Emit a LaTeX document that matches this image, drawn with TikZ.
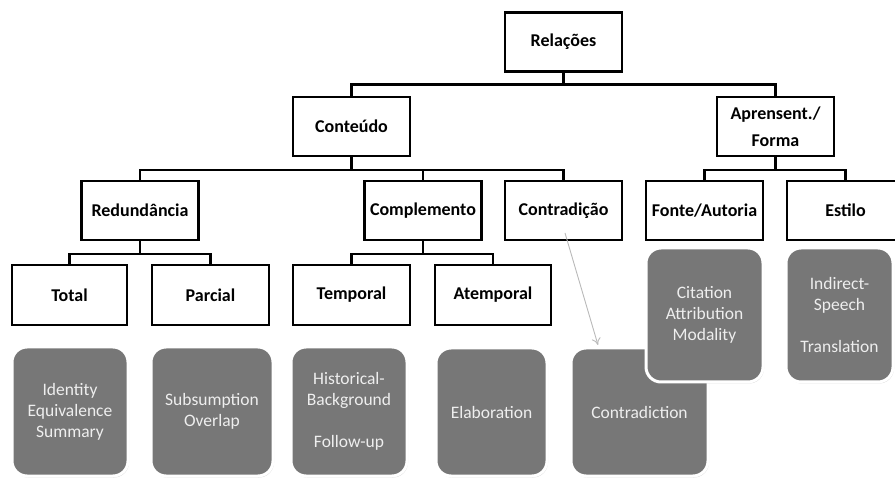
\documentclass[tikz,border=0pt]{standalone}
\usepackage{fontspec}
\setmainfont{Carlito}
\usetikzlibrary{shadows,arrows.meta}
\definecolor{boxgray}{HTML}{777777}
\definecolor{txtlight}{HTML}{EEEEEE}
\tikzset{
  lbox/.style={draw=black, line width=2.4pt, fill=white, minimum width=117pt, minimum height=59pt,
    inner sep=0pt, align=center, font=\bfseries\fontsize{18}{27}\selectfont},
  gbox/.style={draw=white, line width=3pt, fill=boxgray, rounded corners=15pt, inner sep=0pt,
    align=center, text=txtlight, font=\fontsize{17.5}{21}\selectfont,
    drop shadow={opacity=0.35, shadow xshift=1pt, shadow yshift=-1.5pt}},
  conn/.style={line width=2.4pt, black},
  thinarrow/.style={draw=gray!55, line width=0.9pt, -{To[length=7pt,width=9pt]}}
}
\begin{document}
\begin{tikzpicture}[x=1pt,y=-1pt]
\useasboundingbox (0,0) rectangle (895,478);
% label boxes
\node[lbox] (rel) at (563.5,42) {Relações};
\node[lbox] (cont) at (351.5,126.5) {Conteúdo};
\node[lbox] (apr) at (775.5,126.5) {Aprensent./\\Forma};
\node[lbox] (red) at (140,210.5) {Redundância};
\node[lbox] (comp) at (423,210.5) {Complemento};
\node[lbox] (contr) at (563.5,210.5) {Contradição};
\node[lbox] (fonte) at (704.5,210.5) {Fonte/Autoria};
\node[lbox] (estilo) at (845.5,210.5) {Estilo};
\node[lbox, minimum width=115pt, minimum height=60pt] (total) at (69.5,295) {Total};
\node[lbox, minimum height=60pt] (parc) at (210.5,295) {Parcial};
\node[lbox, minimum height=60pt] (temp) at (351.5,295) {Temporal};
\node[lbox, minimum width=116pt, minimum height=60pt] (atemp) at (493,295) {Atemporal};
% connectors
\draw[conn] (rel.south) -- ++(0,12) -| (cont.north);
\draw[conn] (rel.south) -- ++(0,12) -| (apr.north);
\draw[conn] (cont.south) -- ++(0,13) -| (red.north);
\draw[conn] (cont.south) -- ++(0,13) -| (comp.north);
\draw[conn] (cont.south) -- ++(0,13) -| (contr.north);
\draw[conn] (apr.south) -- ++(0,13) -| (fonte.north);
\draw[conn] (apr.south) -- ++(0,13) -| (estilo.north);
\draw[conn] (red.south) -- ++(0,13) -| (total.north);
\draw[conn] (red.south) -- ++(0,13) -| (parc.north);
\draw[conn] (comp.south) -- ++(0,13) -| (temp.north);
\draw[conn] (comp.south) -- ++(0,13) -| (atemp.north);
% gray boxes
\node[gbox, minimum width=116pt, minimum height=129pt] (g1) at (70,411.5) {Identity\\Equivalence\\Summary};
\node[gbox, minimum width=122pt, minimum height=129pt] (g2) at (212,411.5) {Subsumption\\Overlap};
\node[gbox, minimum width=116pt, minimum height=129pt] (g3) at (349,411.5) {Historical-\\Background\\[21pt]Follow-up};
\node[gbox, minimum width=111pt, minimum height=128pt] (g4) at (491.5,412) {Elaboration};
\node[gbox, minimum width=137pt, minimum height=128pt] (g5) at (639.5,412) {Contradiction};
\node[gbox, minimum width=117pt, minimum height=134pt] (g6) at (704.5,315) {Citation\\Attribution\\Modality};
\node[gbox, minimum width=107pt, minimum height=134pt] (g7) at (839.5,315) {Indirect-\\Speech\\[21pt]Translation};
% arrow
\coordinate (arrs) at (565,233);
\coordinate (arre) at (598,345);
\draw[thinarrow] (arrs) -- (arre);
\end{tikzpicture}
\end{document}
